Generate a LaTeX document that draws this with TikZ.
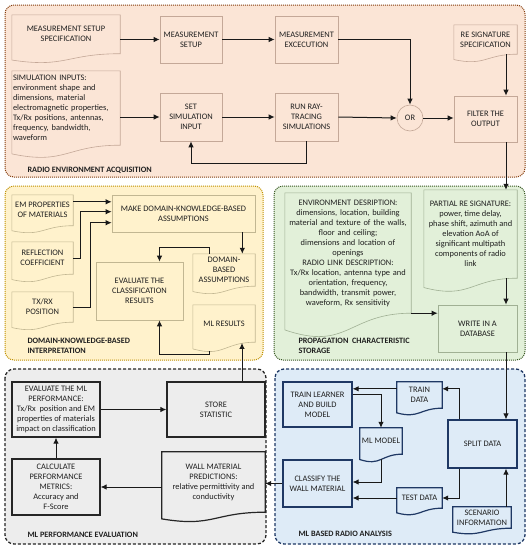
\documentclass[tikz,border=0pt]{standalone}
\usepackage{fontspec}
\setmainfont{Carlito}
\usetikzlibrary{arrows.meta,calc}

\definecolor{orfill}{HTML}{FBE5D6}
\definecolor{ordraw}{HTML}{843C0C}
\definecolor{orbox}{HTML}{C4A898}
\definecolor{yefill}{HTML}{FFF2CC}
\definecolor{yedraw}{HTML}{BF9000}
\definecolor{yebox}{HTML}{C2B792}
\definecolor{grfill}{HTML}{E2F0D9}
\definecolor{grdraw}{HTML}{385723}
\definecolor{grbox}{HTML}{A0B094}
\definecolor{gyfill}{HTML}{EDEDED}
\definecolor{gydraw}{HTML}{262626}
\definecolor{blfill}{HTML}{DEEBF7}
\definecolor{bldraw}{HTML}{1F3864}

\tikzset{
  every node/.style={font=\fontsize{8.4}{10}\selectfont, text=black!88},
  zone/.style={rounded corners=9pt, line width=1pt, dash pattern=on 1pt off 1pt},
  zonedash/.style={rounded corners=9pt, line width=1.3pt, dash pattern=on 3pt off 2pt},
  box/.style={rectangle, draw=#1, line width=0.6pt, inner sep=1pt, align=center},
  darkbox/.style={rectangle, draw=#1, line width=1.2pt, inner sep=1pt, align=center},
  doc/.style={rectangle, inner sep=1pt, align=center},
  lightedge/.style={draw=#1, line width=0.6pt},
  darkedge/.style={draw=#1, line width=1.2pt},
  arr/.style={-{Latex[length=6pt,width=5.5pt]}, line width=1pt, black!90},
  title/.style={font=\fontsize{8.2}{9.8}\selectfont\bfseries, anchor=west, align=left},
}

% wavy lower edge of a document node: #1 edge style, #2 node, #3 depth of the wave
\newcommand{\docwave}[3]{%
  \draw[#1] let \p1=(#2.north west), \p2=(#2.south east) in
    (\x1,\y1) -- (\x2,\y1) -- (\x2,\y2)
    .. controls ({0.5*(\x1+\x2)},\y2) and ({0.5*(\x1+\x2)},{\y2-1.54*#3}) ..
    (\x1,{\y2-0.667*#3}) -- cycle;}

\begin{document}
\begin{tikzpicture}[x=1pt,y=-1pt]
  \useasboundingbox (0,0) rectangle (530,550);

  % zones
  \draw[zone, fill=orfill, draw=ordraw] (5,5) rectangle (525,177);
  \draw[zone, fill=yefill, draw=yedraw] (5,186) rectangle (263,360);
  \draw[zone, fill=grfill, draw=grdraw] (274,186) rectangle (525,360);
  \draw[zonedash, fill=gyfill, draw=gydraw] (5,369) rectangle (266,544);
  \draw[zonedash, fill=blfill, draw=bldraw] (275,369) rectangle (525,544);

  % radio environment acquisition
  \node[doc, minimum width=108, minimum height=38.5] (mss) at (66,34.25) {MEASUREMENT SETUP\\SPECIFICATION};
  \node[box=orbox, minimum width=62, minimum height=47] (msetup) at (191,39.5) {MEASUREMENT\\SETUP};
  \node[box=orbox, minimum width=63, minimum height=47] (mexec) at (306.5,39.5) {MEASUREMENT\\EXCECUTION};
  \node[doc, minimum width=63, minimum height=29] (resig) at (485.5,39.5) {RE SIGNATURE\\SPECIFICATION};
  \node[doc, minimum width=108, minimum height=74, text width=106, align=left] (simin) at (66,108) {SIMULATION INPUTS:\\environment shape and\\dimensions, material\\electromagnetic properties,\\Tx/Rx positions, antennas,\\frequency, bandwidth,\\waveform};
  \node[box=orbox, minimum width=62, minimum height=48] (setsim) at (191,117) {SET\\SIMULATION\\INPUT};
  \node[box=orbox, minimum width=63, minimum height=48] (runray) at (306.5,117) {RUN RAY-\\TRACING\\SIMULATIONS};
  \node[circle, draw=orbox, line width=0.6pt, minimum size=26, inner sep=0pt] (or) at (410,118) {OR};
  \node[box=orbox, minimum width=63, minimum height=46] (filter) at (485.5,119) {FILTER THE\\OUTPUT};
  \node[title] (t1) at (24,170) {RADIO ENVIRONMENT ACQUISITION};
  \docwave{lightedge=orbox}{mss}{9.5pt}
  \docwave{lightedge=orbox}{resig}{8pt}
  \docwave{lightedge=orbox}{simin}{13pt}

  % domain-knowledge-based interpretation
  \node[doc, minimum width=61, minimum height=30.5] (emprop) at (42.5,210.25) {EM PROPERTIES\\OF MATERIALS};
  \node[doc, minimum width=61, minimum height=32] (reflco) at (42.5,258) {REFLECTION\\COEFFICIENT};
  \node[doc, minimum width=61, minimum height=30] (txrx) at (42.5,307) {TX/RX\\POSITION};
  \node[box=yebox, minimum width=143, minimum height=37] (mkdom) at (183.5,213.5) {MAKE DOMAIN-KNOWLEDGE-BASED\\ASSUMPTIONS};
  \node[doc, minimum width=62, minimum height=32] (dombas) at (224,270) {DOMAIN-\\BASED\\ASSUMPTIONS};
  \node[box=yebox, minimum width=87, minimum height=58] (evalcls) at (139.5,291) {EVALUATE THE\\CLASSIFICATION\\RESULTS};
  \node[doc, minimum width=62, minimum height=37] (mlres) at (224,323.5) {ML RESULTS};
  \node[title] (t2) at (24,345.5) {DOMAIN-KNOWLEDGE-BASED\\INTERPRETATION};
  \docwave{lightedge=yebox}{emprop}{7.5pt}
  \docwave{lightedge=yebox}{reflco}{8pt}
  \docwave{lightedge=yebox}{txrx}{8pt}
  \docwave{lightedge=yebox}{dombas}{8pt}
  \docwave{lightedge=yebox}{mlres}{10pt}

  % propagation characteristic storage
  \node[doc, minimum width=124, minimum height=120, text width=124] (envdesc) at (348,253) {ENVIRONMENT DESRIPTION:\\dimensions, location, building\\material and texture of the walls,\\floor and ceiling;\\dimensions and location of\\openings\\RADIO LINK DESCRIPTION:\\Tx/Rx location, antenna type and\\orientation, frequency,\\bandwidth, transmit power,\\waveform, Rx sensitivity};
  \node[doc, minimum width=93, minimum height=88] (partial) at (470.5,234) {PARTIAL RE SIGNATURE:\\power, time delay,\\phase shift, azimuth and\\elevation AoA of\\significant multipath\\components of radio\\link};
  \node[box=grbox, minimum width=79, minimum height=47] (write) at (477.5,328.5) {WRITE IN A\\DATABASE};
  \node[title] (t3) at (295,345.5) {PROPAGATION\ \ CHARACTERISTIC\\STORAGE};
  \docwave{lightedge=grbox}{envdesc}{25pt}
  \docwave{lightedge=grbox}{partial}{14pt}

  % ML performance evaluation
  \node[darkbox=gydraw, minimum width=88, minimum height=55] (evalml) at (56,409.5) {EVALUATE THE ML\\PERFORMANCE:\\Tx/Rx\ \ position and EM\\properties of materials\\impact on classification};
  \node[darkbox=gydraw, minimum width=98, minimum height=55] (store) at (216,409.5) {STORE\\STATISTIC};
  \node[darkbox=gydraw, minimum width=88, minimum height=56] (calc) at (56,487) {CALCULATE\\PERFORMANCE\\METRICS:\\Accuracy and\\F-Score};
  \node[doc, minimum width=103, minimum height=60] (wallpred) at (213.5,482) {WALL MATERIAL\\PREDICTIONS:\\relative permittivity and\\conductivity};
  \node[title] (t4) at (24,535) {ML PERFORMANCE EVALUATION};
  \docwave{darkedge=gydraw}{wallpred}{10pt}

  % ML based radio analysis
  \node[darkbox=bldraw, minimum width=69, minimum height=45] (train) at (317.5,404.5) {TRAIN LEARNER\\AND BUILD\\MODEL};
  \node[doc, minimum width=45, minimum height=26] (trdata) at (419.5,395) {TRAIN\\DATA};
  \node[doc, minimum width=42, minimum height=26] (mlmodel) at (381,441) {ML MODEL};
  \node[darkbox=bldraw, minimum width=69, minimum height=47] (classify) at (317.5,483.5) {CLASSIFY THE\\WALL MATERIAL};
  \node[doc, minimum width=45, minimum height=20] (tsdata) at (419.5,498) {TEST DATA};
  \node[darkbox=bldraw, minimum width=69, minimum height=48] (split) at (482.5,444) {SPLIT DATA};
  \node[doc, minimum width=58, minimum height=21] (scen) at (482,517.5) {SCENARIO\\INFORMATION};
  \node[title] (t5) at (295,534) {ML BASED RADIO ANALYSIS};
  \docwave{darkedge=bldraw}{trdata}{7pt}
  \docwave{darkedge=bldraw}{mlmodel}{8pt}
  \docwave{darkedge=bldraw}{tsdata}{7pt}
  \docwave{darkedge=bldraw}{scen}{6pt}

  % right hand trunk
  \coordinate (trunk) at (506,0);

  % connectors
  \draw[arr] (mss.east |- msetup.west) -- (msetup.west);
  \draw[arr] (msetup.east) -- (mexec.west);
  \draw[arr] (mexec.east) -| (or.north);
  \draw[arr] (simin.east |- setsim.west) -- (setsim.west);
  \draw[arr] (setsim.east) -- (runray.west);
  \draw[arr] (runray.east) -- (or.west);
  \draw[arr] (or.east) -- (or.east -| filter.west);
  \draw[arr] (runray.south) -- ++(0,22) -| (setsim.south);
  \draw[arr] (trunk |- resig.south) -- (trunk |- filter.north);
  \draw[arr] (trunk |- filter.south) -- (trunk |- partial.north);
  \draw[arr] (trunk |- partial.south) -- (trunk |- write.north);
  \draw[arr] (trunk |- write.south) -- (trunk |- split.north);
  \draw[arr] (trunk |- scen.north) -- (trunk |- split.south);
  \draw[arr] (envdesc.south east) -- (envdesc.south east -| write.west);

  \draw[arr] ([yshift=-7pt]emprop.north east) -- ([yshift=-7pt]emprop.north east -| mkdom.west);
  \draw[arr] (reflco.east) -- ++(7,0) |- ([yshift=-17pt]mkdom.north west);
  \draw[arr] (txrx.east) -- ++(17,0) |- ([yshift=-28pt]mkdom.north west);
  \draw[arr] ([xshift=-13pt]mkdom.south east) -- ([xshift=-13pt]mkdom.south east |- dombas.north);
  \draw[arr] ([xshift=17pt]dombas.north west) -- ++(0,-6) -| ([xshift=20pt]evalcls.north);
  \draw[arr] ([xshift=17pt,yshift=-9pt]mlres.south west) -- ++(0,3) -| ([xshift=20pt]evalcls.south);
  \draw[arr] ([xshift=26pt]store.north) -- ++(0,-38.5);

  \draw[arr] (evalml.east) -- (store.west);
  \draw[arr] (calc.north) -- (evalml.south);
  \draw[arr] (calc.east -| wallpred.west) -- (calc.east);
  \draw[arr] (classify.west) -- (classify.west -| wallpred.east);

  \draw[arr] ([yshift=-7pt]trdata.north west) -- ([yshift=-7pt]trdata.north west -| train.east);
  \draw[arr] ([xshift=12pt]split.north west) |- ([yshift=-7pt]trdata.north east);
  \draw[arr] ([xshift=12pt]split.south west) |- (tsdata.east);
  \draw[arr] (tsdata.west) -- (tsdata.west -| classify.east);
  \draw[arr] ([yshift=-13pt]train.north east) -| (mlmodel.north);
  \draw[arr] ([yshift=-5pt]mlmodel.south) |- ([yshift=1.5pt]classify.east);
\end{tikzpicture}
\end{document}
